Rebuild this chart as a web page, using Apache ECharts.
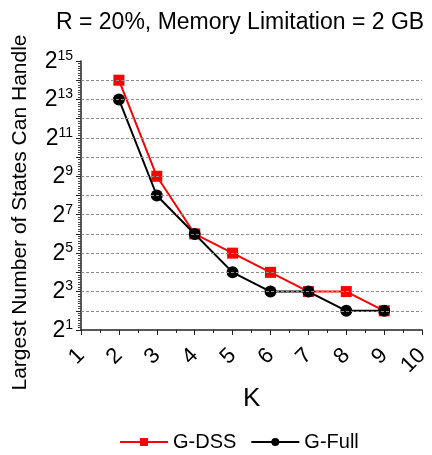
<!DOCTYPE html>
<html>
<head>
<meta charset="utf-8">
<script src="https://cdn.jsdelivr.net/npm/echarts@6/dist/echarts.min.js"></script>
<style>html,body{margin:0;padding:0;background:#fff}#c{width:432px;height:455px}</style>
</head>
<body>
<div id="c"></div>
<script>
// K values
var categoriesK = [2, 3, 4, 5, 6, 7, 8, 9];
// log2 of largest number of states
var gDSS = [14, 9, 6, 5, 4, 3, 3, 2];
var gFull = [13, 8, 6, 4, 3, 3, 2, 2];
var yTickExponents = [1, 3, 5, 7, 9, 11, 13, 15];
var gridExponents = [2, 3, 4, 5, 6, 7, 8, 9, 10, 11, 12, 13, 14];

var FONT = '"Liberation Sans", Arial, sans-serif';
function pairs(ys) { return categoriesK.map(function (k, i) { return [k, ys[i]]; }); }

var chart = echarts.init(document.getElementById('c'), null, { renderer: 'canvas' });
chart.setOption({
  animation: false,
  backgroundColor: '#fff',
  title: {
    text: 'R = 20%, Memory Limitation = 2 GB',
    left: 51, top: 6,
    textStyle: { fontFamily: FONT, fontSize: 23, fontWeight: 'normal', color: '#000' }
  },
  legend: {
    left: 114, top: 427,
    itemWidth: 48, itemHeight: 10, itemGap: 14,
    textStyle: { fontFamily: FONT, fontSize: 20, color: '#000' },
    data: ['G-DSS', 'G-Full']
  },
  grid: { left: 81, right: 7, top: 61, bottom: 125 },
  xAxis: {
    type: 'value', min: 1, max: 10, interval: 1,
    name: 'K', nameLocation: 'middle', nameGap: 56,
    nameTextStyle: { fontFamily: FONT, fontSize: 26, color: '#000' },
    axisLine: { show: true, lineStyle: { color: '#222', width: 1.5 } },
    axisTick: { show: true, length: 5, lineStyle: { color: '#222' } },
    minorTick: { show: true, splitNumber: 2, length: 3, lineStyle: { color: '#222' } },
    splitLine: { show: false },
    axisLabel: { rotate: 45, margin: 22, fontFamily: FONT, fontSize: 22, color: '#000' }
  },
  yAxis: {
    type: 'value', min: 1, max: 15, interval: 1,
    name: 'Largest Number of States Can Handle', nameLocation: 'middle', nameGap: 50,
    nameTextStyle: { fontFamily: FONT, fontSize: 21, color: '#000', padding: [0, 34, 0, 0] },
    axisLine: { show: true, lineStyle: { color: '#222', width: 1.5 } },
    axisTick: { show: true, length: 5, lineStyle: { color: '#222' } },
    minorTick: { show: true, splitNumber: 8, length: 3, lineStyle: { color: '#444' } },
    splitLine: { show: false },
    axisLabel: {
      margin: 8,
      formatter: function (v) {
        return yTickExponents.indexOf(v) >= 0 ? '{b|2}{s|' + v + '}' : '';
      },
      rich: {
        b: { fontFamily: FONT, fontSize: 23, color: '#000', verticalAlign: 'bottom', lineHeight: 24 },
        s: { fontFamily: FONT, fontSize: 14, color: '#000', verticalAlign: 'top', lineHeight: 24, padding: [0, 0, 6, 0] }
      }
    }
  },
  series: [
    {
      name: 'grid', type: 'line', data: [], z: 1, silent: true,
      markLine: {
        silent: true, symbol: 'none', label: { show: false },
        lineStyle: { color: '#8c8c8c', type: [3, 2], width: 1 },
        data: gridExponents.map(function (e) { return { yAxis: e }; })
      }
    },
    {
      name: 'G-DSS', type: 'line', data: pairs(gDSS), z: 3,
      symbol: 'rect', symbolSize: 11,
      lineStyle: { color: '#ff0000', width: 2 },
      itemStyle: { color: '#ff0000' }
    },
    {
      name: 'G-Full', type: 'line', data: pairs(gFull), z: 4,
      symbol: 'circle', symbolSize: 12,
      lineStyle: { color: '#000', width: 2 },
      itemStyle: { color: '#000' }
    }
  ]
});
</script>
</body>
</html>
